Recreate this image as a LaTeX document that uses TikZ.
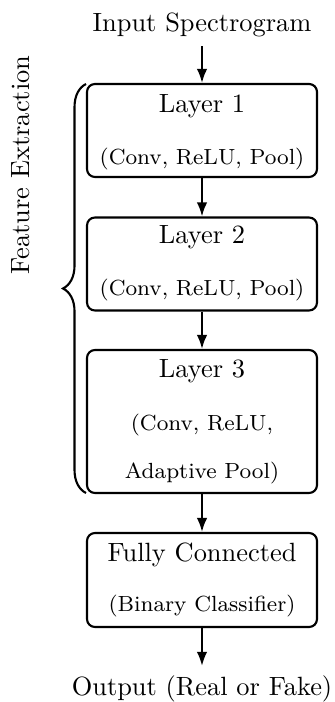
\documentclass[tikz,border=0pt]{standalone}
\usetikzlibrary{decorations.pathreplacing,arrows.meta}
\begin{document}
\begin{tikzpicture}[x=0.3788pt,y=-0.3788pt,
  box/.style={draw,thick,rounded corners=3pt,minimum width=230*0.3788pt,inner sep=0pt},
  title/.style={anchor=base,font=\normalsize},
  sub/.style={anchor=base,font=\fontsize{8.3}{10}\selectfont},
  arr/.style={thick,-{Latex[length=5.3pt,width=4pt]}}]
\useasboundingbox (0,0) rectangle (335,702);
\node[title] (in) at (202,31.7) {Input Spectrogram};
\node[box,minimum height=93*0.3788pt] (b1) at (202,130.5) {};
\node[title] (b1t) at (202,112.7) {Layer 1};
\node[sub] (b1s) at (202,165) {(Conv, ReLU, Pool)};
\node[box,minimum height=93*0.3788pt] (b2) at (202,264) {};
\node[title] (b2t) at (202,243.5) {Layer 2};
\node[sub] (b2s) at (202,296) {(Conv, ReLU, Pool)};
\node[box,minimum height=143*0.3788pt] (b3) at (202,421.5) {};
\node[title] (b3t) at (202,377.7) {Layer 3};
\node[sub] (b3s) at (202,430) {(Conv, ReLU,};
\node[sub] (b3u) at (202,478) {Adaptive Pool)};
\node[box,minimum height=94*0.3788pt] (fc) at (202,580) {};
\node[title] (fct) at (202,561.7) {Fully Connected};
\node[sub] (fcs) at (202,611.7) {(Binary Classifier)};
\node[title] (out) at (202,695) {Output (Real or Fake)};
\draw[arr] (in) -- (b1);
\draw[arr] (b1) -- (b2);
\draw[arr] (b2) -- (b3);
\draw[arr] (b3) -- (fc);
\draw[arr] (fc) -- (out);
\coordinate (bb) at (86,493);
\coordinate (bt) at (86,84);
\draw[thick,decorate,decoration={brace,amplitude=8.7pt}] (bb) -- (bt);
\node[rotate=90] (fe) at (21,165) {Feature Extraction};
\end{tikzpicture}
\end{document}
